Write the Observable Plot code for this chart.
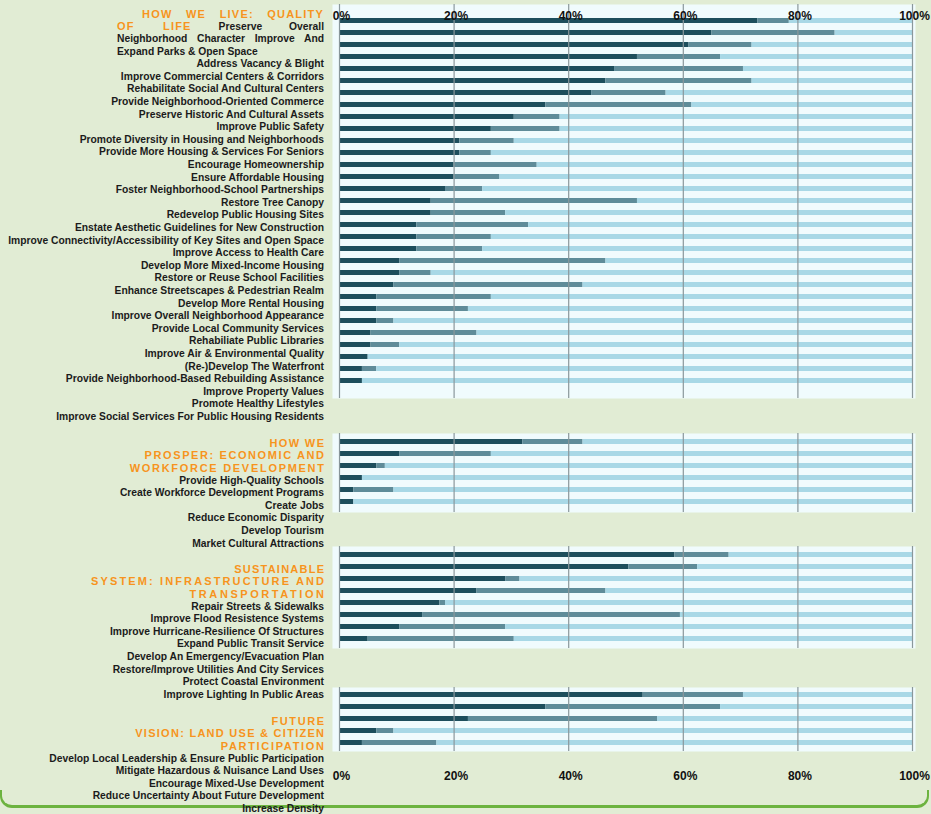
<!DOCTYPE html>
<html><head><meta charset="utf-8">
<script src="https://cdn.jsdelivr.net/npm/d3@7"></script>
<script src="https://cdn.jsdelivr.net/npm/@observablehq/plot@0.6"></script>
<style>
html,body{margin:0;padding:0;background:#e1ecd4;}
#page{position:relative;width:931px;height:814px;overflow:hidden;font-family:"Liberation Sans",Arial,sans-serif;background:#e1ecd4;}
.lbl{position:absolute;right:607px;white-space:nowrap;font-weight:bold;font-size:10.3px;color:#1b1b1b;height:12.6px;line-height:12.6px;text-align:right;}
.hdr{color:#f7941d;font-size:11px;letter-spacing:1.2px;}
</style></head>
<body><div id="page"></div>
<script>
// ---------- data ----------
const ticks = [0, 20, 40, 60, 80, 100];
const tickLabels = ["0%", "20%", "40%", "60%", "80%", "100%"];
const seriesNames = ["High", "Moderate", "Low"];
const seriesColors = ["#1d4e5c", "#5f8c99", "#a8d8e6"];

const liveHeader = "HOW WE LIVE: QUALITY OF LIFE";
const liveLabels = [
  "Preserve Overall Neighborhood Character",
  "Improve And Expand Parks & Open Space",
  "Address Vacancy & Blight",
  "Improve Commercial Centers & Corridors",
  "Rehabilitate Social And Cultural Centers",
  "Provide Neighborhood-Oriented Commerce",
  "Preserve Historic And Cultural Assets",
  "Improve Public Safety",
  "Promote Diversity in Housing and Neighborhoods",
  "Provide More Housing & Services For Seniors",
  "Encourage Homeownership",
  "Ensure Affordable Housing",
  "Foster Neighborhood-School Partnerships",
  "Restore Tree Canopy",
  "Redevelop Public Housing Sites",
  "Enstate Aesthetic Guidelines for New Construction",
  "Improve Connectivity/Accessibility of Key Sites and Open Space",
  "Improve Access to Health Care",
  "Develop More Mixed-Income Housing",
  "Restore or Reuse School Facilities",
  "Enhance Streetscapes & Pedestrian Realm",
  "Develop More Rental Housing",
  "Improve Overall Neighborhood Appearance",
  "Provide Local Community Services",
  "Rehabiliate Public Libraries",
  "Improve Air & Environmental Quality",
  "(Re-)Develop The Waterfront",
  "Provide Neighborhood-Based Rebuilding Assistance",
  "Improve Property Values",
  "Promote Healthy Lifestyles",
  "Improve Social Services For Public Housing Residents"
];
const liveHigh = [73, 65, 61, 52, 48, 46.5, 44, 36, 30.5, 26.5, 21, 21, 20, 20, 18.5, 16, 16, 13.5, 13.5, 13.5, 10.5, 10.5, 9.5, 6.5, 6.5, 6.5, 5.5, 5.5, 5, 4, 4];
const liveModerate = [5.5, 21.5, 11, 14.5, 22.5, 25.5, 13, 25.5, 8, 12, 9.5, 5.5, 14.5, 8, 6.5, 36, 13, 19.5, 13, 11.5, 36, 5.5, 33, 20, 16, 3, 18.5, 5, 0, 2.5, 0];

const prosperHeader = ["HOW WE", "PROSPER: ECONOMIC AND", "WORKFORCE DEVELOPMENT"];
const prosperLabels = [
  "Provide High-Quality Schools",
  "Create Workforce Development Programs",
  "Create Jobs",
  "Reduce Economic Disparity",
  "Develop Tourism",
  "Market Cultural Attractions"
];
const prosperHigh = [32, 10.5, 6.5, 4, 2.5, 2.5];
const prosperModerate = [10.5, 16, 1.5, 0, 7, 0];

const sustainHeader = ["SUSTAINABLE", "SYSTEM: INFRASTRUCTURE AND", "TRANSPORTATION"];
const sustainLabels = [
  "Repair Streets & Sidewalks",
  "Improve Flood Resistence Systems",
  "Improve Hurricane-Resilience Of Structures",
  "Expand Public Transit Service",
  "Develop An Emergency/Evacuation Plan",
  "Restore/Improve Utilities And City Services",
  "Protect Coastal Environment",
  "Improve Lighting In Public Areas"
];
const sustainHigh = [58.5, 50.5, 29, 24, 17.5, 14.5, 10.5, 5];
const sustainModerate = [9.5, 12, 2.5, 22.5, 1, 45, 18.5, 25.5];

const futureHeader = ["FUTURE", "VISION: LAND USE & CITIZEN", "PARTICIPATION"];
const futureLabels = [
  "Develop Local Leadership & Ensure Public Participation",
  "Mitigate Hazardous & Nuisance Land Uses",
  "Encourage Mixed-Use Development",
  "Reduce Uncertainty About Future Development",
  "Increase Density"
];
const futureHigh = [53, 36, 22.5, 6.5, 4];
const futureModerate = [17.5, 30.5, 33, 3, 13];

// ---------- layout ----------
const page = document.getElementById("page");
const ROW = 12.6;

// green rounded border at bottom
const border = document.createElement("div");
Object.assign(border.style, {position: "absolute", left: "0px", top: "790px", width: "925px", height: "15px",
  borderBottom: "3px solid #6cb33f", borderLeft: "2px solid #6cb33f", borderRight: "2px solid #6cb33f",
  borderRadius: "0 0 12px 12px"});
page.appendChild(border);

function makePanel(labels, high, moderate, o) {
  const table = labels.flatMap((label, i) => [
    {label, series: "High", value: high[i]},
    {label, series: "Moderate", value: moderate[i]},
    {label, series: "Low", value: 100 - high[i] - moderate[i]}
  ]);
  const tickData = ticks.map((t, i) => ({t, label: tickLabels[i]}));
  const marks = [
    Plot.frame({fill: "#f0fbfd"}),
    Plot.barX(table, {x: "value", y: "label", fill: "series"}),
    Plot.ruleX(ticks, {stroke: "#8a979b", strokeWidth: 1.2})
  ];
  const txt = {x: "t", text: "label", fontWeight: "bold", fontSize: 12, fill: "#111", dx: 2};
  if (o.topAxis) marks.push(Plot.text(tickData, {...txt, frameAnchor: "top", dy: 7}));
  if (o.bottomAxis) marks.push(Plot.text(tickData, {...txt, frameAnchor: "bottom", dy: 28}));
  const svg = Plot.plot({
    width: 583, height: o.height,
    marginLeft: 0, marginRight: 0, marginTop: o.marginTop || 0, marginBottom: o.marginBottom || 0,
    insetLeft: 7, insetRight: 3, insetTop: o.insetTop, insetBottom: o.insetBottom,
    x: {domain: [0, 100], axis: null},
    y: {domain: labels, axis: null, paddingInner: 0.58, paddingOuter: 0.29},
    color: {domain: seriesNames, range: seriesColors},
    style: {background: "transparent", overflow: "visible", fontFamily: "Liberation Sans, Arial, sans-serif"},
    marks
  });
  svg.style.position = "absolute";
  svg.style.left = "332px";
  svg.style.top = o.top + "px";
  page.appendChild(svg);
}

makePanel(liveLabels, liveHigh, liveModerate, {top: 0, height: 398, marginTop: 4, insetTop: 1.7, insetBottom: 1.7, topAxis: true});
makePanel(prosperLabels, prosperHigh, prosperModerate, {top: 433, height: 79, insetTop: 1, insetBottom: 2.4});
makePanel(sustainLabels, sustainHigh, sustainModerate, {top: 546, height: 102, insetTop: 0.2, insetBottom: 0.2});
makePanel(futureLabels, futureHigh, futureModerate, {top: 687, height: 104, marginBottom: 40, insetTop: 2, insetBottom: 2, bottomAxis: true});

// label lines
function addLine(spec) {
  const d = document.createElement("div");
  d.className = "lbl";
  d.style.top = (spec.y - ROW / 2) + "px";
  if (spec.left != null && !spec.fit) {
    d.style.left = spec.left + "px";
    if (spec.justify) { d.style.textAlign = "justify"; d.style.textAlignLast = "justify"; d.style.whiteSpace = "normal"; }
    else d.style.textAlign = "left";
  }
  const spans = spec.parts.map(([t, kind]) => {
    const s = document.createElement("span");
    s.textContent = t;
    if (kind === "h") s.className = "hdr";
    d.appendChild(s);
    d.appendChild(document.createTextNode(" "));
    return s;
  });
  if (d.lastChild) d.removeChild(d.lastChild);
  page.appendChild(d);
  if (spec.fit) {
    const s = spans[0];
    s.style.letterSpacing = "0px";
    const w = s.getBoundingClientRect().width;
    const target = 324 - spec.left;
    const n = s.textContent.length;
    const ls = (target - w) / n;
    s.style.letterSpacing = ls + "px";
    s.style.marginRight = (-ls) + "px";
  }
}

// panel 1: header flows into a justified paragraph
const liveHeadWords = liveHeader.split(" ");
const live0 = liveLabels[0].split(" ");
const live1 = liveLabels[1].split(" ");
addLine({y: 14, left: 142, justify: true, parts: [[liveHeadWords.slice(0, 4).join(" "), "h"]]});
addLine({y: 14 + ROW, left: 117, justify: true, parts: [[liveHeadWords.slice(4).join(" "), "h"], [live0.slice(0, 2).join(" "), "t"]]});
addLine({y: 14 + 2 * ROW, left: 117, justify: true, parts: [[live0.slice(2).concat(live1.slice(0, 2)).join(" "), "t"]]});
addLine({y: 14 + 3 * ROW, left: 117, parts: [[live1.slice(2).join(" "), "t"]]});
liveLabels.slice(2).forEach((t, i) => addLine({y: 14 + (4 + i) * ROW, parts: [[t, "t"]]}));

function headedBlock(y0, header, lefts, labels) {
  header.forEach((h, i) => addLine({y: y0 + i * ROW, left: lefts[i], fit: true, parts: [[h, "h"]]}));
  labels.forEach((t, i) => addLine({y: y0 + (header.length + i) * ROW, parts: [[t, "t"]]}));
}
headedBlock(443, prosperHeader, [268, 143, 128], prosperLabels);
headedBlock(569, sustainHeader, [233, 89, 187], sustainLabels);
headedBlock(721, futureHeader, [270, 134, 219], futureLabels);
</script>
</body></html>
